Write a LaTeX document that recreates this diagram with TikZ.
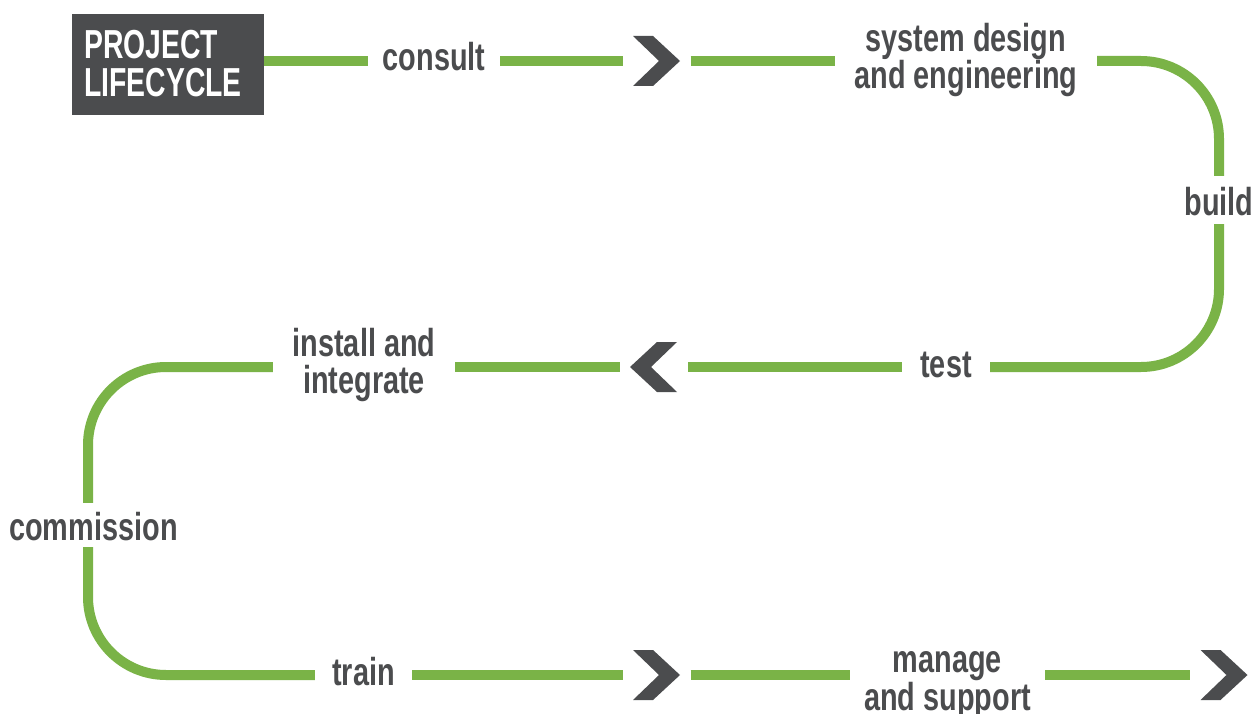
\documentclass[tikz,border=0pt]{standalone}
\usepackage{fontspec}
\newfontfamily\labfont[FakeStretch=0.74]{Liberation Sans}
\newfontfamily\titfont[FakeStretch=0.70]{Liberation Sans}
\definecolor{lcgreen}{HTML}{7AB347}
\definecolor{lcdark}{HTML}{4B4C4E}
\tikzset{
  flow/.style={draw=lcgreen, line width=10pt},
  rc/.style={rounded corners=78pt},
  labbase/.style={font={\labfont\bfseries\fontsize{39pt}{36pt}\selectfont}, text=lcdark, inner sep=0pt},
  lab/.style={labbase, text height=20pt, text depth=0pt},
  vlab/.style={labbase, text height=30pt, text depth=0pt, minimum height=48pt},
  lab2/.style={labbase, align=center},
  chev/.style={minimum width=48pt, minimum height=50pt, inner sep=0pt, outer xsep=10pt},
}
\begin{document}
\begin{tikzpicture}[x=1pt,y=-1pt]
\useasboundingbox (0,0) rectangle (1260,714);

% title box
\node[fill=lcdark, minimum width=192pt, minimum height=101pt, inner sep=0pt] (box) at (168,64.5) {};
\node[anchor=west, font={\titfont\bfseries\fontsize{40.5pt}{38pt}\selectfont}, text=white, align=left, inner sep=0pt] (boxtxt) at (84,64) {PROJECT\\LIFECYCLE};

% labels
\node[lab, minimum width=132pt] (consult) at (434,61) {consult};
\node[chev] (c1) at (656.5,61) {};
\node[lab2, minimum width=262pt] (sys) at (966,60) {system design\\and engineering};
\node[vlab] (build) at (1219,200) {build};
\node[lab, minimum width=88pt] (test) at (946,367) {test};
\node[chev] (c2) at (653.5,367) {};
\node[lab2, minimum width=182pt] (install) at (364,365) {install and\\integrate};
\node[vlab, minimum height=44pt] (comm) at (93.5,525) {commission};
\coordinate (commx) at ([xshift=-5.5pt]comm.center);
\node[lab, minimum width=97pt] (train) at (363.5,675) {train};
\node[chev] (c3) at (656.5,675) {};
\node[lab2, minimum width=195pt] (manage) at (947.5,685) {manage\\and support};
\node[chev] (c4) at (1224,675) {};

% chevrons
\foreach \n in {c1,c3,c4}{
  \fill[lcdark, shift={(\n.center)}] (-23.5,-25) -- (-3.5,-25) -- (23.5,0) -- (-3.5,25) -- (-23.5,25) -- (2.5,0) -- cycle;
}
\fill[lcdark, shift={(c2.center)}] (23.5,-25) -- (3.5,-25) -- (-23.5,0) -- (3.5,25) -- (23.5,25) -- (-2.5,0) -- cycle;

% connectors
\draw[flow] (consult.west -| box.east) -- (consult.west);
\draw[flow] (consult.east) -- (c1.west);
\draw[flow] (c1.east) -- (c1.east -| sys.west);
\draw[flow, rc] (c1.east -| sys.east) -- (c1.east -| build.north) -- (build.north);
\draw[flow, rc] (build.south) -- (build.south |- test.east) -- (test.east);
\draw[flow] (test.west) -- (c2.east);
\draw[flow] (c2.west) -- (c2.west -| install.east);
\draw[flow, rc] (c2.west -| install.west) -- (c2.west -| commx) -- (commx |- comm.north);
\draw[flow, rc] (commx |- comm.south) -- (commx |- train.west) -- (train.west);
\draw[flow] (train.east) -- (c3.west);
\draw[flow] (c3.east) -- (c3.east -| manage.west);
\draw[flow] (c3.east -| manage.east) -- (c4.west);
\end{tikzpicture}
\end{document}
